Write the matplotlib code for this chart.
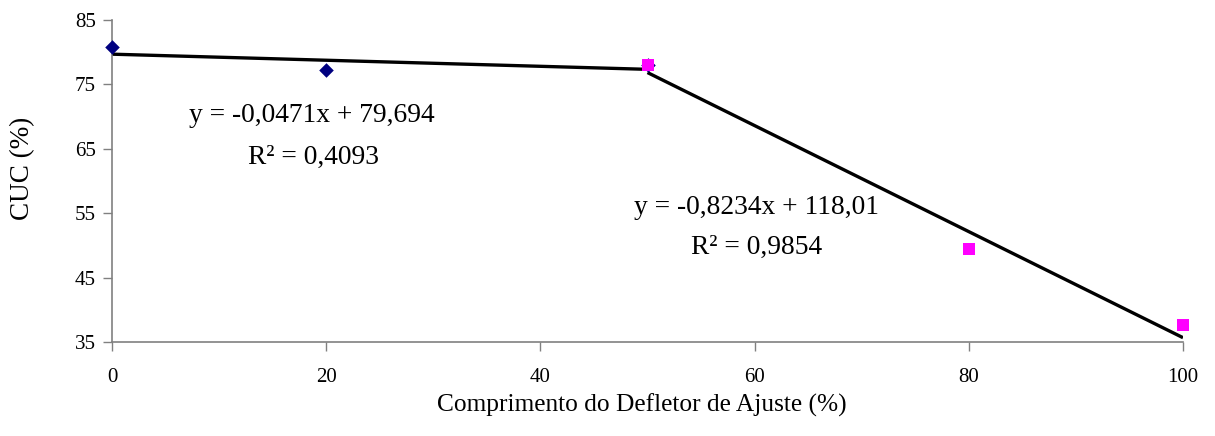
import matplotlib
matplotlib.use("Agg")
import matplotlib.pyplot as plt
import numpy as np

# Data
blue_x = [0, 20, 50]
blue_y = [80.8, 77.2, 78.0]
pink_x = [50, 80, 100]
pink_y = [78.0, 49.4, 37.6]

# Trend lines (slope, intercept, x-range)
trend1 = (-0.0471, 79.694, [0, 50])
trend2 = (-0.8234, 118.01, [50, 100])

eq1 = ["y = -0,0471x + 79,694", "R² = 0,4093"]
eq2 = ["y = -0,8234x + 118,01", "R² = 0,9854"]

xticks = [0, 20, 40, 60, 80, 100]
yticks = [35, 45, 55, 65, 75, 85]

plt.rcParams['font.family'] = ['Liberation Serif', 'DejaVu Serif']

W, H = 1215, 436
fig = plt.figure(figsize=(W / 100, H / 100), dpi=100)
ax = fig.add_axes([112 / W, 1 - 342 / H, (1183 - 112) / W, (342 - 20) / H])

for slope, icpt, xr in (trend1, trend2):
    xs = np.array(xr, dtype=float)
    ax.plot(xs, slope * xs + icpt, color='black', lw=2.4, zorder=2, solid_capstyle='butt')

ax.scatter(blue_x, blue_y, marker='D', s=55, color='#000080', zorder=3, linewidths=0, clip_on=False)
ax.scatter(pink_x, pink_y, marker='s', s=65, color='#FF00FF', zorder=4, linewidths=0, clip_on=False)

ax.set_xlim(0, 100)
ax.set_ylim(35, 85)
ax.set_xticks(xticks)
ax.set_yticks(yticks)
ax.tick_params(direction='out', length=6.5, width=1, color='#808080', labelsize=15, pad=5)
ax.tick_params(axis='x', pad=12)
for s in ('top', 'right'):
    ax.spines[s].set_visible(False)
for s in ('left', 'bottom'):
    ax.spines[s].set_color('#808080')
    ax.spines[s].set_linewidth(1.2)

fig.text(642 / W, 1 - 405 / H, "Comprimento do Defletor de Ajuste (%)", ha='center', va='center', fontsize=18.3)
fig.text(23 / W, 1 - 168 / H, "CUC (%)", ha='center', va='center', rotation=90, fontsize=19.5)

fs_eq = 19.8
fig.text(312 / W, 1 - 115 / H, eq1[0], ha='center', va='center', fontsize=fs_eq)
fig.text(313 / W, 1 - 157 / H, eq1[1], ha='center', va='center', fontsize=fs_eq)
fig.text(756 / W, 1 - 207 / H, eq2[0], ha='center', va='center', fontsize=fs_eq)
fig.text(757 / W, 1 - 247 / H, eq2[1], ha='center', va='center', fontsize=fs_eq)

fig.savefig("out.png", dpi=100)
